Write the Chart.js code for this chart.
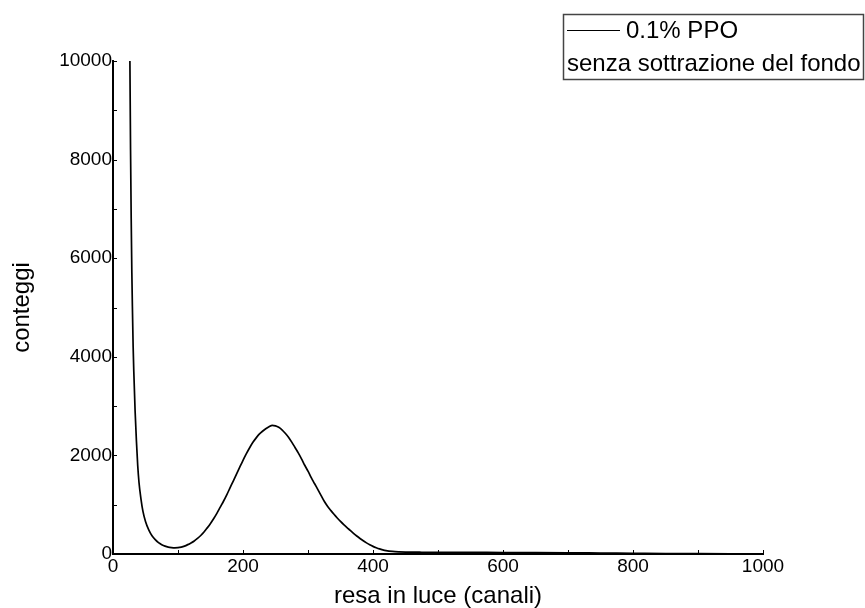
<!DOCTYPE html>
<html>
<head>
<meta charset="utf-8">
<script src="https://cdn.jsdelivr.net/npm/chart.js@4/dist/chart.umd.min.js"></script>
<style>
html, body { margin: 0; padding: 0; background: #fff; }
#spettro { display: block; }
</style>
</head>
<body>
<canvas id="spettro" width="865" height="608"></canvas>
<script>
// spettro 0.1% PPO
var channels = [24, 26, 27, 28, 29, 30, 31, 32, 34, 36, 38, 40, 43, 46, 50, 55, 60, 65, 70, 75,
    80, 85, 90, 95, 100, 105, 110, 115, 120, 125, 130, 135, 140, 145, 150, 155, 160, 165, 170, 175,
    180, 185, 190, 195, 200, 205, 210, 215, 220, 225, 230, 235, 240, 245, 250, 255, 260, 265, 270, 275,
    280, 285, 290, 295, 300, 305, 310, 315, 320, 325, 330, 335, 340, 345, 350, 355, 360, 365, 370, 375,
    380, 385, 390, 395, 400, 405, 410, 415, 420, 430, 440, 450, 475, 500, 550, 600, 650, 700, 750, 800,
    850, 900, 950, 1000];
var counts = [14000, 10000, 8200, 6800, 5700, 4900, 4200, 3700, 2900, 2300, 1800, 1450, 1120, 870, 660, 490, 370, 290, 230, 190,
    160, 140, 130, 125, 128, 140, 160, 190, 225, 265, 315, 375, 445, 530, 620, 720, 830, 950, 1070, 1200,
    1340, 1480, 1620, 1760, 1900, 2030, 2150, 2260, 2350, 2430, 2490, 2540, 2580, 2610, 2600, 2570, 2520, 2450, 2370, 2270,
    2160, 2050, 1930, 1800, 1680, 1550, 1430, 1310, 1190, 1070, 970, 885, 805, 730, 660, 595, 535, 478, 420, 365,
    315, 268, 226, 188, 155, 127, 103, 84, 69, 52, 44, 40, 36, 34, 32, 30, 28, 25, 20, 15,
    10, 7, 5, 3];
var seriesLabel = '0.1% PPO';
var seriesNote = 'senza sottrazione del fondo';
var xTitle = 'resa in luce (canali)';
var yTitle = 'conteggi';

var FONT = '"Liberation Sans", Arial, sans-serif';

var points = [];
for (var i = 0; i < channels.length; i++) {
    points.push({ x: channels[i], y: counts[i] });
}

// tacche minori verso l'interno
var minorTicks = {
    id: 'minorTicks',
    afterDatasetsDraw: function (chart) {
        var ctx = chart.ctx;
        var area = chart.chartArea;
        var xs = chart.scales.x;
        var ys = chart.scales.y;
        ctx.save();
        ctx.strokeStyle = '#000';
        ctx.lineWidth = 1;
        ctx.beginPath();
        for (var v = 0; v <= 10000; v += 1000) {
            var py = Math.round(ys.getPixelForValue(v)) + 0.5;
            ctx.moveTo(area.left, py);
            ctx.lineTo(area.left + 4, py);
        }
        for (var c = 0; c <= 1000; c += 100) {
            var px = Math.round(xs.getPixelForValue(c)) + 0.5;
            ctx.moveTo(px, area.bottom);
            ctx.lineTo(px, area.bottom - 4);
        }
        ctx.stroke();
        ctx.restore();
    }
};

// legenda con cornice in alto a destra
var boxLegend = {
    id: 'boxLegend',
    afterDraw: function (chart) {
        var ctx = chart.ctx;
        ctx.save();
        ctx.strokeStyle = '#444';
        ctx.lineWidth = 1.5;
        ctx.strokeRect(563.5, 14.5, 300, 65);
        ctx.strokeStyle = '#000';
        ctx.lineWidth = 1;
        ctx.beginPath();
        ctx.moveTo(567, 30.5);
        ctx.lineTo(620, 30.5);
        ctx.stroke();
        ctx.fillStyle = '#000';
        ctx.font = '24px ' + FONT;
        ctx.textBaseline = 'middle';
        ctx.textAlign = 'left';
        ctx.fillText(seriesLabel, 626, 31);
        ctx.fillText(seriesNote, 567, 64);
        ctx.restore();
    }
};

function plainLabel(value) {
    return String(value);
}

new Chart(document.getElementById('spettro'), {
    type: 'line',
    data: {
        datasets: [{
            label: seriesLabel,
            data: points,
            borderColor: '#000',
            borderWidth: 1.7,
            borderJoinStyle: 'round',
            pointRadius: 0,
            fill: false,
            cubicInterpolationMode: 'monotone'
        }]
    },
    options: {
        responsive: false,
        animation: false,
        devicePixelRatio: 1,
        layout: { padding: { top: 61, right: 102, left: 0, bottom: 0 } },
        plugins: {
            legend: { display: false },
            tooltip: { enabled: false }
        },
        scales: {
            x: {
                type: 'linear',
                min: 0,
                max: 1000,
                afterFit: function (scale) { scale.height = 54; },
                grid: { display: false, drawTicks: false },
                border: { display: true, color: '#000', width: 2 },
                ticks: {
                    stepSize: 200,
                    padding: 1,
                    color: '#000',
                    maxRotation: 0,
                    callback: plainLabel,
                    font: { family: FONT, size: 19 }
                },
                title: {
                    display: true,
                    text: xTitle,
                    color: '#000',
                    padding: { top: 0, bottom: 0 },
                    font: { family: FONT, size: 24, lineHeight: 1 }
                }
            },
            y: {
                min: 0,
                max: 10000,
                afterFit: function (scale) { scale.width = 113; },
                grid: { display: false, drawTicks: false },
                border: { display: true, color: '#000', width: 2 },
                ticks: {
                    stepSize: 2000,
                    padding: 1,
                    color: '#000',
                    callback: plainLabel,
                    font: { family: FONT, size: 19 }
                },
                title: {
                    display: true,
                    text: yTitle,
                    color: '#000',
                    padding: { top: 10, bottom: 0 },
                    font: { family: FONT, size: 24, lineHeight: 1 }
                }
            }
        }
    },
    plugins: [minorTicks, boxLegend]
});
</script>
</body>
</html>
